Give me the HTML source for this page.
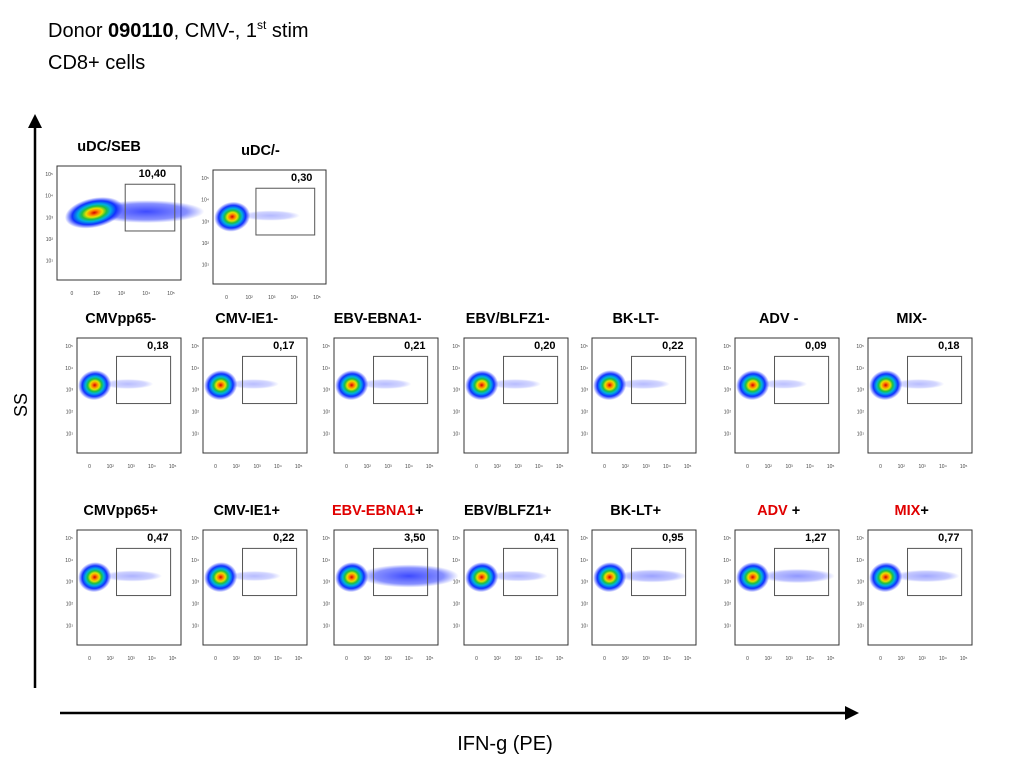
<!DOCTYPE html>
<html><head><meta charset="utf-8"><style>
body{margin:0;width:1024px;height:768px;background:#fff;overflow:hidden;font-family:"Liberation Sans",sans-serif}
svg{position:absolute;left:0;top:0}
</style></head><body>
<svg id="s" width="1024" height="768">
<defs>
<radialGradient id="blob" cx="50%" cy="50%" r="50%">
<stop offset="0" stop-color="#d00000"/><stop offset="0.15" stop-color="#ff8000"/><stop offset="0.28" stop-color="#e8e000"/><stop offset="0.42" stop-color="#20c040"/><stop offset="0.56" stop-color="#00b0e0"/><stop offset="0.75" stop-color="#1030ff"/><stop offset="1" stop-color="#2030ff" stop-opacity="0"/>
</radialGradient>
<radialGradient id="tail" cx="50%" cy="50%" r="50%">
<stop offset="0" stop-color="#1020ff" stop-opacity="0.9"/><stop offset="0.7" stop-color="#2030ff" stop-opacity="0.6"/><stop offset="1" stop-color="#2030ff" stop-opacity="0"/>
</radialGradient>
</defs>
<text x="48" y="37" font-size="20">Donor <tspan font-weight="bold">090110</tspan>, CMV-, 1<tspan font-size="12" dy="-8">st</tspan><tspan dy="8"> stim</tspan></text>
<text x="48" y="69" font-size="20">CD8+ cells</text>
<g><line x1="35" y1="688" x2="35" y2="122" stroke="#000" stroke-width="2.5"/><path d="M28,128 L35,114 L42,128 Z"/></g>
<g><line x1="60" y1="713" x2="850" y2="713" stroke="#000" stroke-width="2.5"/><path d="M845,706 L859,713 L845,720 Z"/></g>
<text x="27" y="405" font-size="18" transform="rotate(-90 27 405)" text-anchor="middle">SS</text>
<text x="505" y="750" font-size="20" text-anchor="middle">IFN-g (PE)</text>
</svg>
<script>
const labels=["uDC/SEB","uDC/-","CMVpp65-","CMV-IE1-","EBV-EBNA1-","EBV/BLFZ1-","BK-LT-","ADV -","MIX-","CMVpp65+","CMV-IE1+","EBV-EBNA1+","EBV/BLFZ1+","BK-LT+","ADV +","MIX+"];
const values=["10,40","0,30","0,18","0,17","0,21","0,20","0,22","0,09","0,18","0,47","0,22","3,50","0,41","0,95","1,27","0,77"];
const redPart=["","","","","","","","","","","","EBV-EBNA1","","","ADV","MIX"];
const s=document.getElementById('s');const NS="http://www.w3.org/2000/svg";
function el(t,a,p){const e=document.createElementNS(NS,t);for(const k in a)e.setAttribute(k,a[k]);(p||s).appendChild(e);return e;}
const rowX=[77,203,334,464,592,735,868];
const frames=[[57,166,124,114],[213,170,113,114]];
for(let r=0;r<2;r++)for(let i=0;i<7;i++)frames.push([rowX[i],r?530:338,104,115]);
frames.forEach((f,i)=>{
 const [x,y,w,h]=f;const v=parseFloat(values[i].replace(',','.'));
 const g=el('g',{});
 
 
 el('rect',{x:x,y:y,width:w,height:h,fill:'#fff',stroke:'#333','stroke-width':1},g);
 const tl=Math.min(1,v/3.5);
 if(v>0.05){const tw=w*(0.12+0.3*Math.sqrt(tl));el('ellipse',{cx:x+w*0.3+tw,cy:y+h*0.4,rx:tw+6,ry:h*(0.04+0.06*tl),fill:'url(#tail)',opacity:0.3+0.6*tl},g);}
 const bx=i==0?x+w*0.3:x+w*0.17;
 el('ellipse',{cx:bx,cy:y+h*0.41,rx:i==0?w*0.24:w*0.16,ry:h*0.13,fill:'url(#blob)',transform:`rotate(-12 ${bx} ${y+h*0.41})`},g);
 el('rect',{x:x+w*(i==0?0.55:0.38),y:y+h*0.16,width:w*(i==0?0.4:0.52),height:h*0.41,fill:'none',stroke:'#555','stroke-width':1},g);
 const vt=el('text',{x:x+w*0.88,y:y+11,'font-size':11,'font-weight':'bold','text-anchor':'end'},g);vt.textContent=values[i];
 const lbl=el('text',{x:x+w*0.42,y:y-15,'font-size':14.5,'font-weight':'bold','text-anchor':'middle'},g);
 if(redPart[i]){const a=el('tspan',{fill:'#e00000'},lbl);a.textContent=redPart[i];const b=el('tspan',{},lbl);b.textContent=labels[i].slice(redPart[i].length);}else lbl.textContent=labels[i];
 ["5","4","3","2","1"].forEach((e,k)=>{const t=el('text',{x:x-4,y:y+10+k*h*0.19,'font-size':5,'text-anchor':'end',fill:'#444'},g);t.textContent='10'+String.fromCharCode([8309,8308,179,178,185][k]);});
 ["0","10²","10³","10⁴","10⁵"].forEach((e,k)=>{const t=el('text',{x:x+w*(0.12+k*0.2),y:y+h+15,'font-size':5,'text-anchor':'middle',fill:'#444'},g);t.textContent=e;});
});
</script>
</body></html>
